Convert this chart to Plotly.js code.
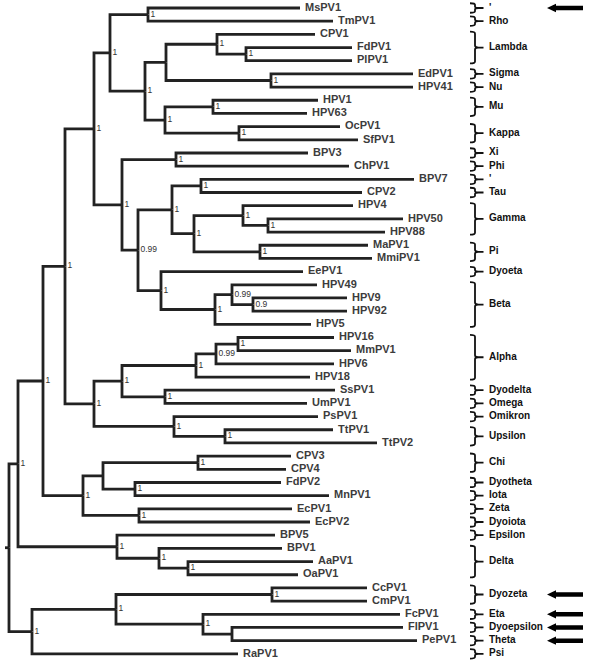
<!DOCTYPE html>
<html><head><meta charset="utf-8">
<script src="https://cdn.plot.ly/plotly-3.0.1.min.js"></script>
<style>html,body{margin:0;padding:0;background:#fff}</style>
</head><body><div id="chart" style="width:600px;height:661px"></div>
<script>
// Leaves (top to bottom), tip depth, parent internal node
const leafNames = ["MsPV1","TmPV1","CPV1","FdPV1","PlPV1","EdPV1","HPV41","HPV1","HPV63","OcPV1",
  "SfPV1","BPV3","ChPV1","BPV7","CPV2","HPV4","HPV50","HPV88","MaPV1","MmiPV1",
  "EePV1","HPV49","HPV9","HPV92","HPV5","HPV16","MmPV1","HPV6","HPV18","SsPV1",
  "UmPV1","PsPV1","TtPV1","TtPV2","CPV3","CPV4","FdPV2","MnPV1","EcPV1","EcPV2",
  "BPV5","BPV1","AaPV1","OaPV1","CcPV1","CmPV1","FcPV1","FlPV1","PePV1","RaPV1"];
const leafDepth = [300,333,315,352,352,413,413,318,307,340,
  358,308,349,414,362,353,403,385,368,372,
  303,317,347,347,311,334,351,334,310,335,
  307,318,333,377,291,286,281,329,292,310,
  275,282,313,298,367,367,400,403,417,238];
const leafParent = [11,11,14,15,15,16,16,18,18,19,
  19,20,20,23,23,25,26,26,27,27,
  28,30,31,31,29,35,35,34,33,36,
  36,37,38,38,40,40,41,41,42,42,
  4,43,44,44,46,46,47,48,48,2];
// Internal nodes: depth, parent, posterior support
const nodeDepth = [9,18,32,43,117,65,83,94,94,110,
  122,148,145,166,217,246,271,165,213,239,
  176,138,172,201,194,243,268,260,161,215,
  232,253,122,196,216,238,165,174,225,103,
  198,135,139,159,188,116,272,203,232];
const nodeParent = [-1,0,0,1,1,3,3,5,5,7,
  7,9,9,12,13,14,13,12,17,17,
  10,10,21,22,22,24,25,24,21,28,
  29,30,8,32,33,34,32,8,37,6,
  39,39,6,4,43,2,45,45,47];
const nodeSupport = ["","1","1","1","1","1","1","1","1","1",
  "1","1","1","","1","1","1","1","1","1",
  "1","0.99","1","1","1","1","1","1","1","1",
  "0.99","0.9","1","1","0.99","1","1","1","1","",
  "1","1","1","1","1","1","1","1",""];
// Genera brackets
const cladeNames = ["'","Rho","Lambda","Sigma","Nu","Mu","Kappa","Xi","Phi","'",
  "Tau","Gamma","Pi","Dyoeta","Beta","Alpha","Dyodelta","Omega","Omikron","Upsilon",
  "Chi","Dyotheta","Iota","Zeta","Dyoiota","Epsilon","Delta","Dyozeta","Eta","Dyoepsilon",
  "Theta","Psi"];
const cladeFirst = [0,1,2,5,6,7,9,11,12,13,14,15,18,20,21,25,29,30,31,32,34,36,37,38,39,40,41,44,46,47,48,49];
const cladeLast  = [0,1,4,5,6,8,10,11,12,13,14,17,19,20,24,28,29,30,31,33,35,36,37,38,39,40,43,45,46,47,48,49];
const arrowClades = [0,27,28,29,30];

// ---- compute node y positions ----
const nN = nodeDepth.length;
const memo = {};
function nodeY(k){
  if (memo[k] !== undefined) return memo[k];
  const ys = [];
  leafParent.forEach((p,i)=>{ if(p===k) ys.push(i); });
  nodeParent.forEach((p,j)=>{ if(p===k) ys.push(nodeY(j)); });
  const v = (Math.min(...ys)+Math.max(...ys))/2;
  memo[k]=v; return v;
}
const ny = []; for(let k=0;k<nN;k++) ny.push(nodeY(k));

const lx=[], ly=[];
function seg(px,py,cx,cy){ lx.push(px,px,cx,null); ly.push(py,cy,cy,null); }
leafNames.forEach((n,i)=>{ const p=leafParent[i]; seg(nodeDepth[p],ny[p],leafDepth[i],i); });
for(let j=1;j<nN;j++){ const p=nodeParent[j]; seg(nodeDepth[p],ny[p],nodeDepth[j],ny[j]); }
lx.push(nodeDepth[0]-4,nodeDepth[0],null); ly.push(ny[0],ny[0],null);

const traces = [];
traces.push({x:lx,y:ly,mode:'lines',line:{color:'#222',width:2.8},hoverinfo:'skip',showlegend:false});
traces.push({x:leafDepth.map(d=>d+5),y:leafNames.map((n,i)=>i),text:leafNames,mode:'text',
  textposition:'middle right',textfont:{family:'Liberation Sans, Arial',size:11,color:'#3c3c3c',weight:'bold'},
  hoverinfo:'skip',showlegend:false});
const sx=[],sy=[],st=[];
nodeSupport.forEach((s,k)=>{ if(s){ sx.push(nodeDepth[k]+2.5); sy.push(ny[k]); st.push(s);} });
traces.push({x:sx,y:sy,text:st,mode:'text',textposition:'middle right',
  textfont:{family:'Liberation Sans, Arial',size:8.5,color:'#333'},hoverinfo:'skip',showlegend:false});
const cy = cladeNames.map((c,i)=>(cladeFirst[i]+cladeLast[i])/2);
traces.push({x:cladeNames.map(()=>489),y:cy,text:cladeNames,mode:'text',textposition:'middle right',
  textfont:{family:'Liberation Sans, Arial',size:10,color:'#111',weight:'bold'},hoverinfo:'skip',showlegend:false});

const shapes = [];
const xL=470, xM=475, xT=478.5;
cladeNames.forEach((c,i)=>{
  const pad = cladeFirst[i]===cladeLast[i] ? 0.36 : 0.2;
  const y0=cladeFirst[i]-pad, y1=cladeLast[i]+pad, ym=(y0+y1)/2;
  const r=Math.min(0.15,(ym-y0)/3);
  const path=`M ${xL},${y0} Q ${xM},${y0} ${xM},${y0+r} L ${xM},${ym-r} Q ${xM},${ym} ${xT},${ym} Q ${xM},${ym} ${xM},${ym+r} L ${xM},${y1-r} Q ${xM},${y1} ${xL},${y1} M ${xT},${ym} L ${xT+5},${ym}`;
  shapes.push({type:'path',xref:'x',yref:'y',path:path,line:{color:'#111',width:1.8}});
});
arrowClades.forEach(ci=>{
  const y=cy[ci];
  const tip=547, base=556, tail=583, hs=0.17, hh=0.32;
  const path=`M ${tip},${y} L ${base},${y-hh} L ${base},${y-hs} L ${tail},${y-hs} L ${tail},${y+hs} L ${base},${y+hs} L ${base},${y+hh} Z`;
  shapes.push({type:'path',xref:'x',yref:'y',path:path,fillcolor:'#000',line:{color:'#000',width:0}});
});

const layout = {
  width:600,height:661,margin:{l:0,r:0,t:0,b:0},
  paper_bgcolor:'#fff',plot_bgcolor:'#fff',
  xaxis:{range:[0,600],visible:false,fixedrange:true},
  yaxis:{range:[49.545,-0.607],visible:false,fixedrange:true},
  shapes:shapes,showlegend:false
};
Plotly.newPlot('chart',traces,layout,{staticPlot:true,displayModeBar:false});
</script></body></html>
